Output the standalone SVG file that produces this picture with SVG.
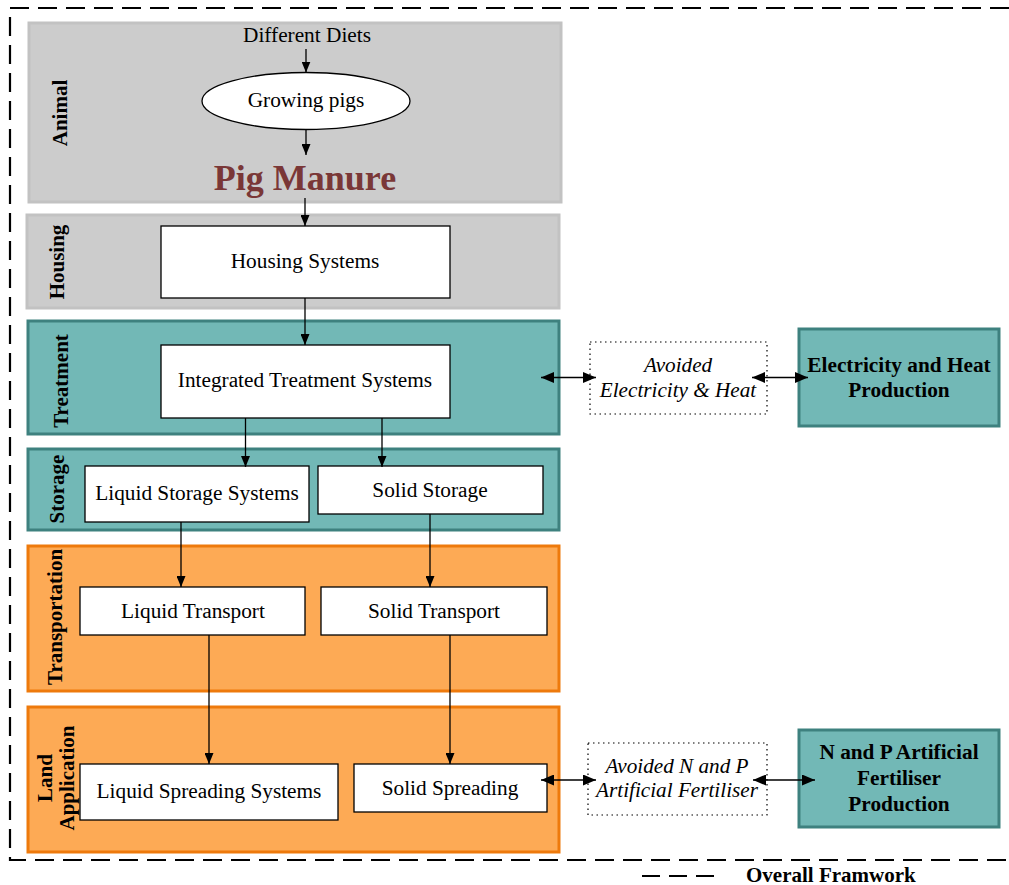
<svg xmlns="http://www.w3.org/2000/svg" width="1009" height="885" viewBox="0 0 1009 885">
  <style>
    text { font-family: "Liberation Serif", "Times New Roman", serif; fill: #000; }
    .t { font-size: 21.3px; text-anchor: middle; }
    .lane-label { font-size: 21px; font-weight: bold; text-anchor: middle; }
    .ext { font-size: 21.3px; font-weight: bold; text-anchor: middle; }
    .avoid { font-size: 21.2px; font-style: italic; text-anchor: middle; }
    .gray { fill: #cccccc; stroke: #c2c2c2; stroke-width: 3; }
    .teal { fill: #72b8b6; stroke: #3e817f; stroke-width: 3; }
    .orange { fill: #fdaa55; stroke: #ee7a0c; stroke-width: 3; }
    .box { fill: #ffffff; stroke: #000; stroke-width: 1.3; }
    .dotted { fill: #ffffff; stroke: #000; stroke-width: 1.2; stroke-dasharray: 1.5 3.5; }
    .frame { fill: none; stroke: #000; stroke-width: 2.2; stroke-dasharray: 19 9; }
    .arrow { fill: none; stroke: #000; stroke-width: 1.3; marker-end: url(#head); }
    .dbl { fill: none; stroke: #000; stroke-width: 1.3; marker-start: url(#head2); marker-end: url(#head2); }
  </style>
  <defs>
    <marker id="head" markerUnits="userSpaceOnUse" markerWidth="11" markerHeight="9" refX="11" refY="4.5" orient="auto">
      <path d="M0,0 L11,4.5 L0,9 z" fill="#000"/>
    </marker>
    <marker id="head2" markerUnits="userSpaceOnUse" markerWidth="13" markerHeight="11" refX="13" refY="5.5" orient="auto-start-reverse">
      <path d="M0,0 L13,5.5 L0,11 z" fill="#000"/>
    </marker>
  </defs>

  <rect width="1009" height="885" fill="#ffffff"/>

  <!-- overall framework boundary -->
  <g id="framework">
    <path class="frame" d="M1009,8 H10 V860 H1009"/>
  </g>

  <!-- stage lanes -->
  <g id="lane-animal">
    <rect class="gray" x="29" y="23" width="532" height="179"/>
    <text class="lane-label" transform="translate(67,113) rotate(-90)">Animal</text>
  </g>
  <g id="lane-housing">
    <rect class="gray" x="27" y="215" width="532" height="93"/>
    <text class="lane-label" transform="translate(64,262) rotate(-90)">Housing</text>
  </g>
  <g id="lane-treatment">
    <rect class="teal" x="28" y="321" width="531" height="113"/>
    <text class="lane-label" transform="translate(68,381) rotate(-90)">Treatment</text>
  </g>
  <g id="lane-storage">
    <rect class="teal" x="28" y="449" width="531" height="81"/>
    <text class="lane-label" transform="translate(64,489) rotate(-90)">Storage</text>
  </g>
  <g id="lane-transportation">
    <rect class="orange" x="28" y="546" width="531" height="145"/>
    <text class="lane-label" transform="translate(62,617) rotate(-90)">Transportation</text>
  </g>
  <g id="lane-land">
    <rect class="orange" x="28" y="707" width="531" height="145"/>
    <text class="lane-label" transform="translate(52,778) rotate(-90)">Land</text>
    <text class="lane-label" transform="translate(74,778) rotate(-90)">Application</text>
  </g>

  <!-- process nodes -->
  <g id="diets">
    <text class="t" x="307" y="42">Different Diets</text>
  </g>
  <g id="pigs">
    <ellipse cx="306" cy="101" rx="104" ry="28.5" fill="#ffffff" stroke="#000" stroke-width="1.3"/>
    <text class="t" x="306" y="107">Growing pigs</text>
  </g>
  <g id="manure">
    <text x="305" y="190" font-size="36" font-weight="bold" text-anchor="middle" style="fill:#7a3737">Pig Manure</text>
  </g>
  <g id="housing">
    <rect class="box" x="161" y="226" width="289" height="72"/>
    <text class="t" x="305" y="268">Housing Systems</text>
  </g>
  <g id="treatment">
    <rect class="box" x="161" y="345" width="289" height="73"/>
    <text class="t" x="305" y="387">Integrated Treatment Systems</text>
  </g>
  <g id="liquid-storage">
    <rect class="box" x="85" y="466" width="224" height="56"/>
    <text class="t" x="197" y="500">Liquid Storage Systems</text>
  </g>
  <g id="solid-storage">
    <rect class="box" x="318" y="466" width="225" height="48"/>
    <text class="t" x="430" y="497">Solid Storage</text>
  </g>
  <g id="liquid-transport">
    <rect class="box" x="80" y="587" width="225" height="48"/>
    <text class="t" x="193" y="618">Liquid Transport</text>
  </g>
  <g id="solid-transport">
    <rect class="box" x="321" y="587" width="226" height="48"/>
    <text class="t" x="434" y="618">Solid Transport</text>
  </g>
  <g id="liquid-spreading">
    <rect class="box" x="80" y="764" width="258" height="56"/>
    <text class="t" x="209" y="798">Liquid Spreading Systems</text>
  </g>
  <g id="solid-spreading">
    <rect class="box" x="354" y="764" width="193" height="48"/>
    <text class="t" x="450" y="795">Solid Spreading</text>
  </g>

  <!-- external systems -->
  <g id="avoided-energy">
    <rect class="dotted" x="590" y="342" width="177" height="72"/>
    <text class="avoid" x="678" y="372">Avoided</text>
    <text class="avoid" x="678" y="397">Electricity &amp; Heat</text>
  </g>
  <g id="energy-production">
    <rect class="teal" x="799" y="329" width="200" height="97"/>
    <text class="ext" x="899" y="372">Electricity and Heat</text>
    <text class="ext" x="899" y="397">Production</text>
  </g>
  <g id="avoided-fertiliser">
    <rect class="dotted" x="588" y="743" width="179" height="72"/>
    <text class="avoid" x="677" y="773">Avoided N and P</text>
    <text class="avoid" x="677" y="797">Artificial Fertiliser</text>
  </g>
  <g id="fertiliser-production">
    <rect class="teal" x="799" y="730" width="200" height="97"/>
    <text class="ext" x="899" y="759">N and P Artificial</text>
    <text class="ext" x="899" y="785">Fertiliser</text>
    <text class="ext" x="899" y="811">Production</text>
  </g>

  <!-- connectors -->
  <g id="connectors">
    <line class="arrow" x1="306" y1="49" x2="306" y2="72.5"/>
    <line class="arrow" x1="306" y1="130" x2="306" y2="155"/>
    <line class="arrow" x1="305" y1="198" x2="305" y2="226"/>
    <line class="arrow" x1="305" y1="298" x2="305" y2="345"/>
    <line class="arrow" x1="245.5" y1="418" x2="245.5" y2="467"/>
    <line class="arrow" x1="382" y1="418" x2="382" y2="467"/>
    <line class="arrow" x1="181" y1="522" x2="181" y2="587"/>
    <line class="arrow" x1="430" y1="514" x2="430" y2="587"/>
    <line class="arrow" x1="209" y1="635" x2="209" y2="764"/>
    <line class="arrow" x1="450" y1="635" x2="450" y2="764"/>
    <line class="dbl" x1="541" y1="377.5" x2="596" y2="377.5"/>
    <line class="dbl" x1="752" y1="377.5" x2="808" y2="377.5"/>
    <line class="dbl" x1="541" y1="780" x2="596" y2="780"/>
    <line class="dbl" x1="753" y1="780" x2="815" y2="780"/>
  </g>

  <!-- legend -->
  <g id="legend">
    <line x1="642" y1="876" x2="715" y2="876" stroke="#000" stroke-width="2.2" stroke-dasharray="18 9"/>
    <text x="746" y="882" font-size="21" font-weight="bold">Overall Framwork</text>
  </g>
</svg>
